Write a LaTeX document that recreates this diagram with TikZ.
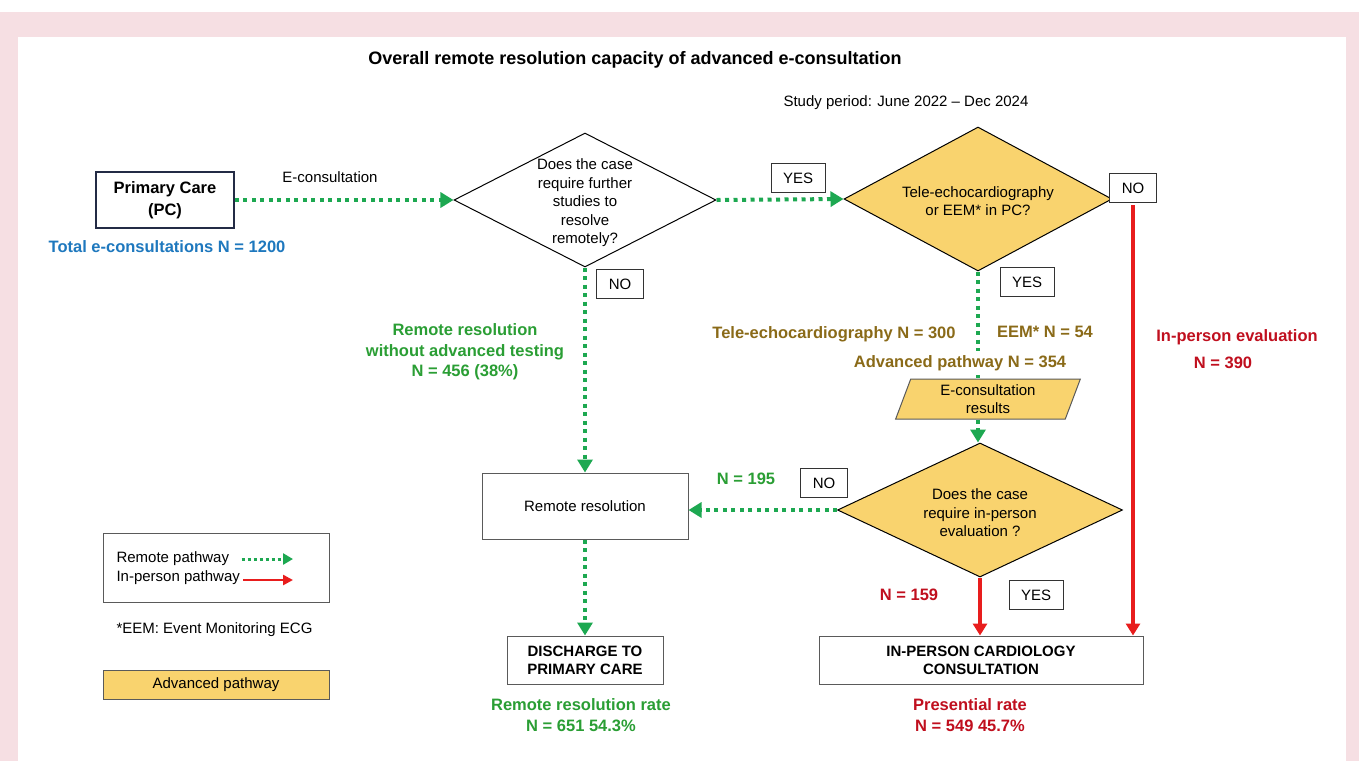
\documentclass[tikz,border=0pt]{standalone}
\usepackage{fontspec}
\setmainfont{Liberation Sans}
\usetikzlibrary{shapes.geometric,arrows.meta,positioning}

\definecolor{pagepink}{HTML}{F6DFE3}
\definecolor{pathgreen}{HTML}{1DA851}
\definecolor{textgreen}{HTML}{2A9E34}
\definecolor{pathred}{HTML}{E81D1D}
\definecolor{textred}{HTML}{C00F1E}
\definecolor{totalblue}{HTML}{1E78BE}
\definecolor{advolive}{HTML}{8A6A18}
\definecolor{advyellow}{HTML}{F9D36E}
\definecolor{pcnavy}{HTML}{232B45}
\definecolor{boxgray}{HTML}{5A5A5A}

\newcommand{\flowbodyfont}{\fontsize{15}{18.5}\selectfont}
\newcommand{\flowtitlefont}{\fontsize{18}{22}\selectfont\bfseries}
\newcommand{\flowcountfont}{\fontsize{16.5}{20.5}\selectfont\bfseries}
\newcommand{\flowcapsfont}{\fontsize{15}{18}\selectfont\bfseries}

\tikzset{
  remote/.style={draw=pathgreen,line width=4pt,dash pattern=on 4pt off 4.5pt,-{Triangle[length=13pt,width=15pt]}},
  remote line/.style={draw=pathgreen,line width=4pt,dash pattern=on 4pt off 4.5pt},
  inperson/.style={draw=pathred,line width=4pt,-{Triangle[length=12pt,width=14pt]}},
  flowbox/.style={draw=boxgray,line width=1pt,fill=white,align=center,font=\flowbodyfont},
  tag/.style={draw=black!80,line width=1pt,fill=white,font=\flowbodyfont,minimum height=29pt,inner xsep=12pt},
  decision/.style={diamond,draw=black,line width=1pt,inner sep=0pt},
  dtext/.style={align=center,font=\flowbodyfont},
  tally/.style={align=center,font=\flowcountfont},
  parallel/.style={trapezium,trapezium left angle=72,trapezium right angle=108,trapezium stretches=true,
    draw=boxgray,line width=1pt,inner sep=0pt,minimum width=185pt,minimum height=40pt,align=center,
    font=\fontsize{15}{17.5}\selectfont},
}

\begin{document}
\begin{tikzpicture}[x=1pt,y=-1pt]
\fill[white] (0,0) rectangle (1359,761);
\fill[pagepink] (0,12) rectangle (1359,761);
\fill[white] (18,37) rectangle (1346,761);
\useasboundingbox (0,0) rectangle (1359,761);

\node[font=\flowtitlefont] (title) at (635,60) {Overall remote resolution capacity of advanced e-consultation};
\node[font=\flowbodyfont] (period) at (906,103) {Study period: June 2022 – Dec 2024};

% first row
\node[flowbox,draw=pcnavy,line width=1.5pt,minimum width=138pt,minimum height=56pt,font=\fontsize{16.5}{21.5}\selectfont\bfseries] (pc) at (165,200) {Primary Care\\(PC)};
\node[font=\flowbodyfont] (econs) at (330,177) {E-consultation};
\node[tally,text=totalblue] (total) at (167,247) {Total e-consultations N = 1200};
\node[decision,fill=white,minimum width=262pt,minimum height=134pt] (d1) at (585,200) {};
\node[dtext] (d1txt) at ([yshift=-3pt]d1) {Does the case\\require further\\studies to\\resolve\\remotely?};
\node[decision,fill=advyellow,minimum width=268pt,minimum height=144pt] (d2) at (978,199) {};
\node[dtext] (d2txt) at ([yshift=-2pt]d2) {Tele-echocardiography\\or EEM* in PC?};

% advanced pathway
\node[parallel,fill=advyellow] (res) at (988,399) {E-consultation\\results};
\node[decision,fill=advyellow,minimum width=285pt,minimum height=134pt] (d3) at (980,510) {};
\node[dtext] (d3txt) at ([yshift=-3pt]d3) {Does the case\\require in-person\\evaluation ?};

% outcomes
\node[flowbox,minimum width=206pt,minimum height=66pt] (rr) at (585,506) {Remote resolution};
\node[flowbox,font=\flowcapsfont,minimum width=156pt,minimum height=48pt] (dis) at (585,660) {DISCHARGE TO\\PRIMARY CARE};
\node[flowbox,font=\flowcapsfont,minimum width=324pt,minimum height=48pt] (ipc) at (981,660) {IN-PERSON CARDIOLOGY\\CONSULTATION};

\node[tag] (yes1) at (798,178) {YES};
\node[tag] (no1) at (620,284) {NO};
\node[tag] (no2) at (1133,188) {NO};
\node[tag] (yes2) at (1027,282) {YES};
\node[tag] (no3) at (824,483) {NO};
\node[tag] (yes3) at (1036,595) {YES};

\draw[remote] (pc) -- (d1);
\draw[remote] (d1.east) -- (d2.west);
\draw[remote] (d1.south) -- (rr.north);
\draw[remote line] (d2.south) -- (d2.south |- res.north);
\draw[remote] (d2.south |- res.south) -- (d2.south |- d3.north);
\draw[remote] (d3.west) -- (d3.west -| rr.east);
\draw[remote] (rr.south) -- (dis.north);
\draw[inperson] (d3.south) -- (d3.south |- ipc.north);
\draw[inperson] ([yshift=-2pt]no2.south) -- (no2.south |- ipc.north);

\node[tally,text=textgreen] (nowithout) at (465,352) {Remote resolution\\without advanced testing\\N = 456 (38\%)};
\node[tally,text=advolive] (tele) at (834,334) {Tele-echocardiography N = 300};
\node[tally,text=advolive] (eem) at (1045,332) {EEM* N = 54};
\node[tally,text=advolive,fill=white,inner sep=4pt] (advn) at (960,363) {Advanced pathway N = 354};
\node[tally,text=textred] (inpersonlbl) at (1237,337) {In-person evaluation};
\node[tally,text=textred] (n390) at (1223,363) {N = 390};
\node[tally,text=textgreen] (n195) at (746,479) {N = 195};
\node[tally,text=textred] (n159) at (909,595) {N = 159};
\node[tally,text=textgreen] (remoterate) at (581,715) {Remote resolution rate\\N = 651 54.3\%};
\node[tally,text=textred] (presrate) at (970,715) {Presential rate\\N = 549 45.7\%};

% key
\node[draw=boxgray,line width=1pt,minimum width=226pt,minimum height=69pt] (legend) at (216,567.5) {};
\node[font=\flowbodyfont,anchor=west] (lgremote) at (113,559) {Remote pathway};
\node[font=\flowbodyfont,anchor=west] (lgperson) at (113,578) {In-person pathway};
\coordinate (lgremoteend) at (293,559);
\coordinate (lgpersonend) at (293,580);
\draw[remote,line width=3pt,dash pattern=on 3pt off 3pt,-{Triangle[length=10pt,width=11pt]}] ([xshift=9pt]lgremote.east) -- (lgremoteend);
\draw[inperson,line width=2.5pt,-{Triangle[length=10pt,width=10pt]}] (lgperson.east |- lgpersonend) -- (lgpersonend);
\node[font=\flowbodyfont,anchor=west] (eemnote) at (113,630) {*EEM: Event Monitoring ECG};
\node[flowbox,fill=advyellow,minimum width=226pt,minimum height=29pt] (advkey) at (216,684.5) {Advanced pathway};
\end{tikzpicture}
\end{document}
